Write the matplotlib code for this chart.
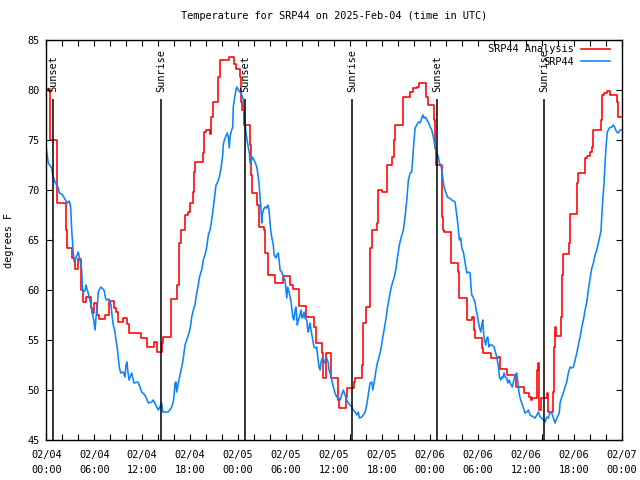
#!/usr/bin/env python3
"""Temperature for SRP44 - analysis vs station obs, 3 days, with sunrise/sunset marks."""

import matplotlib
matplotlib.use('Agg')
import matplotlib.pyplot as plt
import matplotlib.dates as mdates
import pandas as pd

START = pd.Timestamp('2025-02-04 00:00')

# SRP44 Analysis (hours since start, degF) - stepped
ana_hours = [0.0, 0.45, 1.35, 2.45, 2.6, 3.25, 3.6, 3.95, 4.4, 4.55, 4.95, 5.55, 5.75,
             5.95, 6.4, 6.6, 7.35, 7.85, 8.45, 8.7, 9.0, 9.55, 10.1, 10.3, 11.85, 12.55,
             13.45, 13.85, 14.45, 14.65, 15.55, 15.65, 16.4, 16.6, 16.9, 17.4, 17.7, 18.0,
             18.4, 18.5, 18.6, 19.55, 19.7, 20.0, 20.5, 20.6, 20.8, 21.5, 21.74, 22.9,
             23.5, 23.75, 24.2, 24.4, 24.55, 24.75, 25.5, 25.6, 25.7, 26.35, 26.6, 27.25,
             27.37, 27.7, 27.78, 28.6, 29.66, 30.5, 30.84, 31.63, 32.5, 33.54, 33.72, 34.54,
             34.67, 35.0, 35.63, 36.47, 36.55, 36.63, 37.5, 37.67, 38.55, 38.67, 39.55,
             39.67, 39.97, 40.51, 40.73, 41.43, 41.55, 41.98, 42.6, 43.23, 43.52, 43.64,
             44.6, 45.52, 45.93, 46.36, 46.65, 47.53, 47.73, 48.5, 48.65, 48.73, 49.56,
             49.69, 49.77, 50.61, 51.56, 51.69, 52.62, 53.32, 53.57, 53.65, 54.57, 54.69,
             55.65, 56.5, 56.78, 57.62, 58.75, 59.79, 60.41, 60.66, 60.75, 61.45, 61.58,
             61.67, 61.88, 62.63, 62.83, 63.38, 63.5, 63.62, 63.8, 64.35, 64.5, 64.63,
             65.46, 65.58, 66.46, 66.58, 67.42, 67.63, 68.05, 68.26, 68.46, 69.38, 69.5,
             69.79, 70.13, 70.54, 71.45, 71.58, 72.0]
ana_temp = [80.1, 75.0, 68.7, 66.0, 64.2, 63.2, 62.1, 63.1, 60.0, 58.8, 59.3, 58.2, 57.7,
            58.7, 57.5, 57.1, 57.5, 58.9, 58.2, 57.8, 56.8, 57.2, 56.6, 55.7, 55.2, 54.3,
            54.8, 53.8, 54.7, 55.3, 56.3, 59.1, 60.5, 64.7, 66.0, 67.5, 67.8, 68.7,
            69.8, 71.8, 72.8, 73.7, 75.8, 76.0, 75.6, 77.3, 78.8, 81.3, 83.0, 83.3,
            82.6, 82.1, 81.3, 78.8, 78.0, 76.5, 74.5, 71.5, 69.7, 68.5, 66.3, 66.0,
            63.7, 62.7, 61.5, 60.7, 61.4, 60.5, 60.1, 58.4, 57.3, 56.3, 54.7, 53.7,
            51.2, 53.7, 51.2, 50.5, 49.0, 48.2, 49.3, 50.2, 50.8, 51.2, 52.5,
            56.7, 58.3, 64.2, 66.0, 66.7, 70.0, 69.8, 72.5, 73.3, 75.0, 76.5,
            79.3, 79.8, 80.2, 80.3, 80.7, 79.3, 78.5, 77.0, 74.2, 72.5, 67.3,
            66.0, 65.8, 62.7, 61.8, 59.2, 57.0, 57.3, 56.0, 55.2, 54.2, 53.7,
            53.2, 53.3, 52.1, 51.5, 50.3, 49.7, 49.3, 49.0, 49.2, 52.0, 52.7,
            48.0, 49.2, 49.7, 47.8, 49.8, 54.3, 56.3, 55.4, 57.3, 61.5, 63.6,
            64.7, 67.6, 70.7, 71.7, 73.2, 73.4, 73.8, 74.3, 76.0, 77.0, 79.5,
            79.7, 79.9, 79.5, 78.8, 77.3, 77.3]

# SRP44 station observations
obs_hours = [0.0, 0.25, 0.68, 0.8, 1.09, 1.5, 1.63, 1.96, 2.63, 2.88, 3.05, 3.18, 3.38,
             3.5, 3.72, 4.0, 4.22, 4.43, 4.56, 4.84, 4.97, 5.38, 5.68, 5.93, 6.1, 6.22,
             6.38, 6.51, 6.81, 7.22, 7.35, 7.47, 7.85, 8.1, 8.26, 8.39, 8.6, 8.72, 8.89,
             9.01, 9.14, 9.31, 9.64, 9.85, 9.97, 10.1, 10.19, 10.35, 10.69, 10.98, 11.48,
             11.73, 11.94, 12.35, 12.77, 13.19, 13.39, 13.82, 14.02, 14.44, 14.57, 15.23,
             15.48, 15.69, 15.89, 16.02, 16.11, 16.23, 16.32, 16.52, 16.73, 16.95, 17.15,
             17.36, 17.57, 17.9, 18.07, 18.2, 18.4, 18.61, 18.74, 18.9, 19.02, 19.15,
             19.32, 19.45, 19.65, 19.86, 20.08, 20.28, 20.49, 20.7, 20.83, 21.11, 21.24,
             21.45, 21.65, 21.83, 21.95, 22.08, 22.15, 22.28, 22.65, 22.78, 22.9, 22.99,
             23.12, 23.33, 23.4, 23.62, 23.83, 24.03, 24.24, 24.46, 24.66, 24.74, 24.87,
             24.99, 25.16, 25.41, 25.5, 25.62, 25.78, 26.12, 26.33, 26.46, 26.62, 26.75,
             26.87, 26.96, 27.03, 27.16, 27.37, 27.58, 27.71, 27.87, 28.0, 28.08, 28.21,
             28.41, 28.5, 28.75, 28.84, 29.04, 29.16, 29.25, 29.46, 29.66, 29.87, 30.09,
             30.21, 30.38, 30.5, 30.63, 30.84, 31.0, 31.13, 31.25, 31.41, 31.54, 31.75,
             31.88, 32.0, 32.13, 32.25, 32.38, 32.59, 32.72, 32.79, 33.0, 33.13, 33.34,
             33.5, 33.72, 33.84, 33.97, 34.13, 34.26, 34.38, 34.54, 34.76, 34.88, 35.09,
             35.29, 35.38, 35.51, 35.72, 35.92, 36.13, 36.35, 36.55, 36.76, 36.88, 37.05,
             37.17, 37.38, 37.6, 37.8, 38.01, 38.22, 38.42, 38.64, 38.85, 39.05, 39.17,
             39.47, 39.67, 39.89, 40.1, 40.23, 40.39, 40.51, 40.73, 40.85, 41.01, 41.14,
             41.26, 41.43, 41.64, 41.85, 42.05, 42.27, 42.48, 42.68, 42.93, 43.14, 43.35,
             43.55, 43.77, 43.93, 44.18, 44.39, 44.61, 44.68, 44.89, 45.11, 45.31, 45.52,
             45.73, 45.86, 46.02, 46.15, 46.36, 46.56, 46.77, 46.98, 47.11, 47.27, 47.46,
             47.61, 47.81, 48.02, 48.24, 48.44, 48.65, 48.86, 49.06, 49.19, 49.36, 49.49,
             49.61, 49.77, 50.03, 50.19, 50.44, 50.74, 50.94, 51.15, 51.28, 51.44, 51.56,
             51.69, 51.86, 51.99, 52.19, 52.4, 52.62, 52.82, 53.03, 53.15, 53.24, 53.44,
             53.65, 53.78, 53.94, 54.07, 54.19, 54.37, 54.49, 54.62, 54.69, 54.82, 54.99,
             55.12, 55.24, 55.41, 55.53, 55.78, 56.03, 56.2, 56.37, 56.5, 56.58, 56.7,
             56.87, 57.0, 57.12, 57.29, 57.41, 57.62, 57.75, 57.91, 58.04, 58.16, 58.32,
             58.45, 58.66, 58.87, 59.0, 59.16, 59.29, 59.5, 59.7, 59.91, 60.13, 60.33,
             60.54, 60.95, 61.16, 61.38, 61.58, 61.79, 62.0, 62.2, 62.42, 62.63, 62.83,
             63.04, 63.25, 63.45, 63.66, 63.79, 63.95, 64.08, 64.2, 64.29, 64.5, 64.7,
             64.91, 65.12, 65.32, 65.54, 65.75, 65.96, 66.17, 66.38, 66.58, 66.8, 67.01,
             67.21, 67.42, 67.63, 67.83, 68.05, 68.26, 68.46, 68.67, 68.88, 69.08, 69.3,
             69.42, 69.5, 69.63, 69.79, 69.92, 70.04, 70.2, 70.45, 70.75, 70.95, 71.16,
             71.37, 71.58, 71.79, 72.0]
obs_temp = [74.2, 72.7, 72.2, 71.5, 70.8, 70.2, 69.7, 69.6, 68.7, 68.9, 68.3, 66.0, 63.7,
            62.8, 63.2, 63.8, 63.0, 62.0, 59.8, 59.9, 60.5, 59.3, 58.2, 57.0, 56.0, 57.2,
            58.3, 59.8, 60.3, 60.0, 59.5, 59.0, 59.1, 58.5, 57.2, 56.5, 55.8, 55.0, 54.2,
            53.2, 52.3, 51.7, 51.8, 51.3, 52.5, 52.8, 52.0, 51.0, 51.7, 50.7, 50.8,
            50.3, 49.8, 49.5, 48.7, 48.8, 49.0, 48.3, 48.0, 48.7, 47.8, 47.8,
            48.0, 48.3, 48.8, 49.7, 50.7, 50.8, 49.8, 50.7, 51.5, 52.3, 53.2,
            54.5, 55.0, 55.8, 56.5, 57.3, 58.0, 58.5, 59.3, 60.0, 60.5, 61.2,
            61.7, 62.0, 63.0, 63.5, 64.3, 65.5, 66.0, 67.0, 67.8, 69.7, 70.5,
            70.8, 71.3, 72.0, 72.7, 73.5, 74.5, 75.0, 75.7, 75.3, 74.2, 75.3,
            75.8, 76.3, 78.3, 79.5, 80.3, 80.0, 79.8, 79.5, 79.0, 78.0, 76.7,
            75.7, 74.8, 73.7, 72.7, 72.8, 73.3, 72.8, 72.3, 71.7, 70.7, 69.3,
            68.0, 66.7, 67.5, 68.0, 68.3, 68.2, 68.5, 68.0, 66.7, 66.0, 65.3,
            64.5, 63.5, 63.2, 63.5, 63.7, 62.8, 62.0, 61.8, 61.3, 61.0, 59.2,
            60.3, 59.8, 59.3, 58.8, 57.3, 57.0, 58.0, 58.3, 56.5, 57.0, 57.5,
            58.0, 57.2, 57.3, 57.8, 57.2, 57.0, 56.0, 55.8, 56.7, 56.0, 55.0,
            54.3, 54.2, 54.3, 53.3, 52.3, 52.0, 52.8, 53.2, 52.7, 53.0, 53.2,
            52.7, 52.0, 51.7, 51.0, 50.3, 49.7, 49.3, 49.2, 49.0, 49.3, 49.7,
            50.0, 49.5, 49.0, 48.7, 48.5, 48.3, 48.0, 47.8, 47.5, 47.8, 47.2,
            47.3, 47.5, 47.8, 48.5, 49.2, 50.0, 50.7, 50.8, 50.0, 50.7, 51.3,
            52.0, 52.7, 53.3, 54.0, 55.0, 56.0, 57.0, 58.2, 59.3, 60.2, 60.8,
            61.3, 62.2, 63.2, 64.5, 65.2, 65.8, 66.0, 67.3, 69.0, 71.0, 71.7,
            71.8, 73.3, 75.0, 76.2, 76.5, 76.8, 76.7, 77.2, 77.5, 77.2, 77.3,
            77.0, 76.8, 76.3, 76.0, 75.3, 74.3, 73.7, 73.3, 72.7, 72.5, 72.0,
            71.2, 70.3, 69.7, 69.3, 69.2, 69.0, 68.9, 68.8, 68.0, 67.0, 66.0,
            65.0, 65.2, 64.2, 63.8, 62.8, 61.7, 61.8, 61.7, 60.3, 59.5, 59.2,
            58.8, 58.0, 57.5, 56.8, 56.3, 55.8, 56.5, 57.0, 56.0, 55.0, 54.5,
            55.2, 55.3, 54.3, 54.5, 54.5, 54.3, 53.8, 53.3, 52.7, 52.3, 51.3,
            51.0, 51.3, 51.2, 51.7, 51.3, 51.2, 50.7, 51.0, 50.7, 50.5, 50.3,
            50.8, 51.5, 51.7, 50.8, 49.7, 49.2, 48.7, 48.2, 47.7, 47.8, 48.0,
            47.5, 47.3, 47.2, 47.5, 47.8, 47.3, 47.2, 47.0, 46.8, 47.3, 47.2,
            47.8, 47.7, 47.2, 46.7, 47.0, 47.3, 47.5, 47.8, 48.7, 49.3, 49.7,
            50.3, 50.8, 51.7, 52.3, 52.2, 52.3, 53.0, 53.7, 54.5, 55.3, 56.3,
            57.0, 58.0, 58.8, 60.0, 61.2, 62.2, 62.7, 63.5, 64.0, 64.7, 65.5,
            66.0, 67.3, 69.0, 70.7, 72.7, 74.3, 75.8, 76.2, 76.3, 76.5, 76.2,
            75.8, 75.7, 76.0, 76.0]

# sun events (hours since start)
event_hours = [0.88, 14.39, 24.9, 38.3, 48.94, 62.33]
event_labels = ['Sunset', 'Sunrise', 'Sunset', 'Sunrise', 'Sunset', 'Sunrise']

FONT = 'DejaVu Sans Mono'
FS = 7.4


def to_times(hours):
    return START + pd.to_timedelta(hours, unit='h')


def main():
    plt.rcParams['font.family'] = FONT
    plt.rcParams['font.size'] = FS

    fig = plt.figure(figsize=(6.4, 4.8), dpi=100)
    ax = fig.add_axes([0.0723, 0.0833, 0.8991, 0.8334])

    ax.plot(to_times(ana_hours), ana_temp, color='#ff0000', lw=1.15,
            drawstyle='steps-post', label='SRP44 Analysis')
    ax.plot(to_times(obs_hours), obs_temp, color='#0a84ff', lw=1.15, label='SRP44')

    for h, lab in zip(event_hours, event_labels):
        t = to_times([h])[0]
        ax.vlines(t, 45, 79.1, color='k', lw=1.1)
        ax.text(t, 79.8, lab, rotation=90, ha='center', va='bottom', fontsize=FS)

    ax.set_xlim(START, START + pd.Timedelta(hours=72))
    ax.set_ylim(45, 85)
    ax.set_yticks(range(45, 86, 5))
    ax.xaxis.set_major_locator(mdates.HourLocator(byhour=range(0, 24, 6)))
    ax.xaxis.set_minor_locator(mdates.HourLocator(byhour=range(0, 24, 2)))
    ax.xaxis.set_major_formatter(mdates.DateFormatter('%m/%d\n%H:%M'))
    ax.tick_params(which='both', direction='in', top=True, right=True,
                   length=4, width=0.8, labelsize=FS)
    ax.tick_params(axis='x', pad=7)
    ax.tick_params(axis='y', pad=5)
    for s in ax.spines.values():
        s.set_linewidth(1.0)

    ax.set_ylabel('degrees F', fontsize=FS)
    ax.yaxis.set_label_coords(-0.056, 0.5)
    ax.set_title('Temperature for SRP44 on 2025-Feb-04 (time in UTC)', fontsize=FS, pad=15)

    ax.legend(loc='upper right', bbox_to_anchor=(0.99, 1.005), frameon=False,
              markerfirst=False, handlelength=2.8, handletextpad=0.7,
              labelspacing=0.25, borderaxespad=0.2, fontsize=FS)

    fig.canvas.draw()
    for lbl in ax.get_xticklabels():
        lbl.set_linespacing(1.6)

    fig.savefig('out.png', dpi=100)


if __name__ == '__main__':
    main()
